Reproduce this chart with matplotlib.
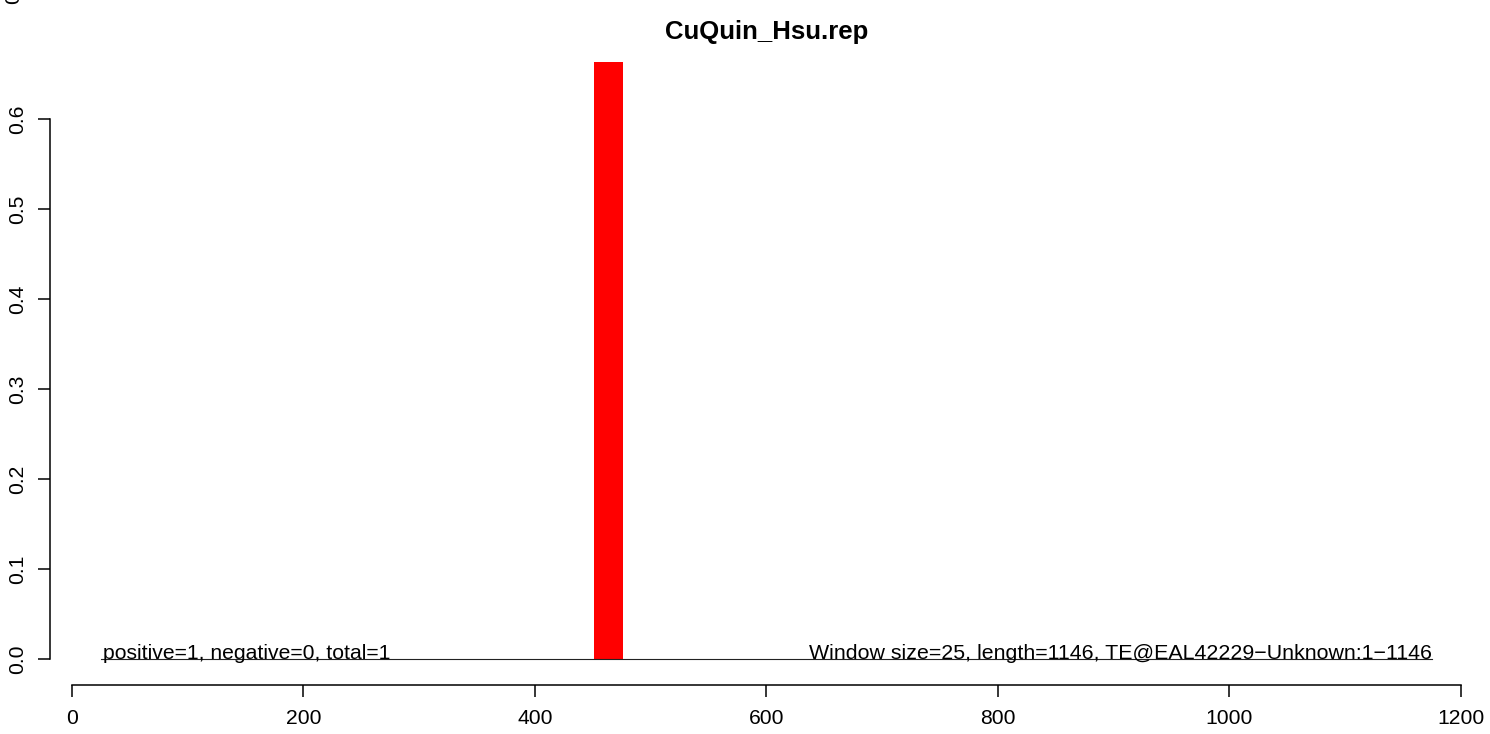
import matplotlib.pyplot as plt

plt.rcParams['font.family'] = ['Liberation Sans', 'DejaVu Sans']

# Window data
bar_starts = [451]
bar_values = [0.663]
window = 25
seq_start, seq_end = 25, 1175
x_ticks = [0, 200, 400, 600, 800, 1000, 1200]
y_ticks = [0.0, 0.1, 0.2, 0.3, 0.4, 0.5, 0.6]
title = 'CuQuin_Hsu.rep'
left_note = 'positive=1, negative=0, total=1'
right_note = 'Window size=25, length=1146, TE@EAL42229\u2212Unknown:1\u22121146'

fig = plt.figure(figsize=(14.9, 7.34), dpi=100)
ax = fig.add_axes([50 / 1490, 49 / 734, 1435 / 1490, 647 / 734])

ax.bar(bar_starts, bar_values, width=window, align='edge', color='red', linewidth=0)
ax.plot([seq_start, seq_end], [0, 0], color='#222222', lw=0.8)

ax.text(seq_start + 2, 0, left_note, fontsize=15.2, ha='left', va='baseline')
ax.text(seq_end, 0, right_note, fontsize=15.4, ha='right', va='baseline')

ax.set_xlim(-19, 1221)
ax.set_ylim(-0.0289, 0.69)

# R-style axes: lines only between the outer ticks
for s in ['top', 'right']:
    ax.spines[s].set_visible(False)
ax.spines['left'].set_bounds(0, 0.6)
ax.spines['bottom'].set_bounds(0, 1200)
for s in ['left', 'bottom']:
    ax.spines[s].set_linewidth(1.1)

ax.set_xticks(x_ticks)
ax.set_xticklabels([str(t) for t in x_ticks])
ax.set_yticks(y_ticks)
ax.set_yticklabels([f'{t:.1f}' for t in y_ticks], rotation=90, va='center')
ax.tick_params(axis='both', length=8.6, width=1.1, labelsize=15.2)
ax.tick_params(axis='x', pad=9)
ax.tick_params(axis='y', pad=8)

fig.text(767 / 1490, 1 - 32 / 734, title, fontsize=18.5, fontweight='bold',
         ha='center', va='center')
# partially clipped label at the top-left corner
fig.text(14 / 1490, 1 + 2 / 734, '0', fontsize=15.2, rotation=90, ha='center', va='center')

fig.savefig('out.png', dpi=100)
